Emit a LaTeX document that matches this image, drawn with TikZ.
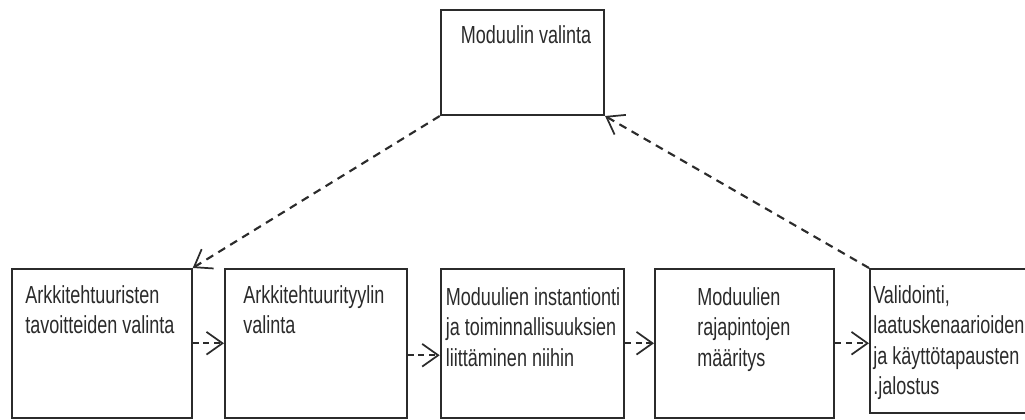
\documentclass[tikz,border=0pt]{standalone}
\usepackage{fontspec}
\setmainfont[FakeStretch=0.73]{Liberation Sans}
\usetikzlibrary{arrows.meta,calc}
\definecolor{ink}{HTML}{2B2B2B}
\begin{document}
\begin{tikzpicture}[x=0.75pt,y=-0.75pt,
  box/.style={draw=ink, line width=1.5pt, fill=white, inner sep=0pt, rectangle},
  txt/.style={anchor=north west, inner sep=0pt, align=left, text=ink,
    font=\fontsize{18.5}{22.9}\selectfont,
    execute at begin node={\rule{0pt}{13.5pt}}},
  dep/.style={draw=ink, line width=1.3pt, dash pattern=on 4.5pt off 3.5pt,
    -{Straight Barb[length=12pt,width=17pt,line width=1.3pt]}},
  longdep/.style={dep, line width=1.6pt, dash pattern=on 6pt off 4.5pt},
]
\useasboundingbox (0,0) rectangle (1025,420);
\clip (0,0) rectangle (1025,420);

% process boxes
\node[box, minimum width=122.5pt, minimum height=78.75pt] (b0) at (522.4,62.5) {};
\node[box, minimum width=134.8pt, minimum height=111.4pt] (b1) at (101.85,343.25) {};
\node[box, minimum width=136.3pt, minimum height=111.4pt] (b2) at (315.85,343.25) {};
\node[box, minimum width=137.5pt, minimum height=111.4pt] (b3) at (532.35,343.25) {};
\node[box, minimum width=134.6pt, minimum height=111.4pt] (b4) at (744.75,343.25) {};
\node[box, minimum width=142.5pt, minimum height=108pt] (b5) at (965,341) {};

% box captions
\node[txt] (t0) at (460.7,25) {Moduulin valinta};
\node[txt] (t1) at (25,285) {Arkkitehtuuristen\\tavoitteiden valinta};
\node[txt] (t2) at (243,285) {Arkkitehtuurityylin\\valinta};
\node[txt] (t3) at (445.7,287) {Moduulien instantionti\\ja toiminnallisuuksien\\liittäminen niihin};
\node[txt] (t4) at (697,287) {Moduulien\\rajapintojen\\määritys};
\node[txt] (t5) at (873,285) {Validointi,\\laatuskenaarioiden\\ja käyttötapausten\\.jalostus};

% dependencies
\draw[dep] (b1) -- (b2);
\draw[dep] ([yshift=-9pt]b2.east) -- ([yshift=-9pt]b3.west);
\draw[dep] (b3) -- (b4);
\draw[dep] (b4.east) -- (b4.east -| b5.west);
\draw[longdep] (b0.south west) -- (b1.north east);
\draw[longdep] (b5.north west) -- (b0.south east);
\end{tikzpicture}
\end{document}
